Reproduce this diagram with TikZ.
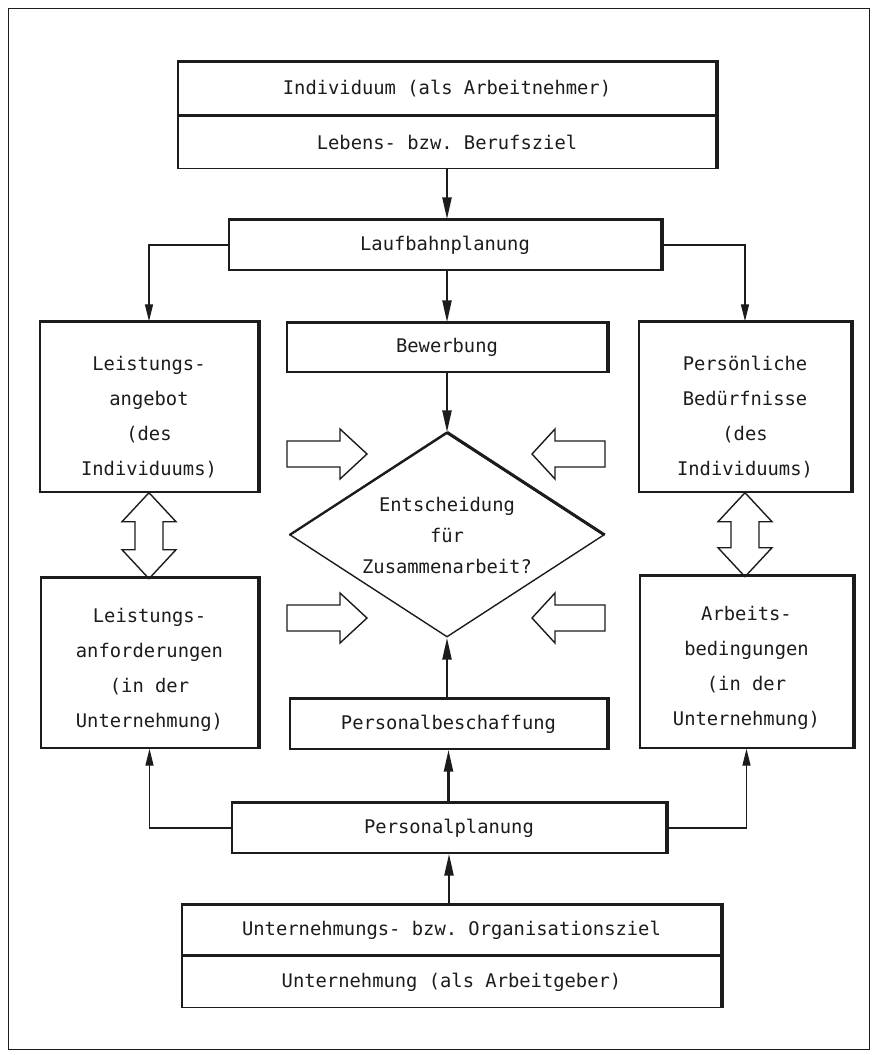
\documentclass[tikz,border=0pt]{standalone}
\usepackage{fontspec}
\setmonofont{DejaVu Sans Mono}
\usepackage{tikz}
\usetikzlibrary{arrows.meta,calc,positioning,shapes.geometric}
\definecolor{ink}{RGB}{28,28,28}

\begin{document}
\begin{tikzpicture}[x=1pt,y=-1pt,
  every node/.style={font=\ttfamily\fontsize{18.8}{35}\selectfont,text=ink},
  kasten/.style={draw=ink,line width=1.4pt,inner sep=0pt,align=center},
  rand/.style={draw=ink,line width=3.6pt},
  fluss/.style={-{Triangle[length=22pt,width=9pt]},draw=ink,line width=2.4pt},
  zweig/.style={-{Triangle[length=17pt,width=8pt]},draw=ink,line width=1.3pt},
  hohl/.style={draw=ink,line width=1.4pt,line join=miter}]
  \useasboundingbox (0,0) rectangle (874,1055);
  \draw[ink,line width=1pt] (8,8) rectangle (869,1049);
  % Kaesten
  \node[kasten,minimum width=538pt,minimum height=53pt] (indiv) at (447,88.5) {Individuum (als Arbeitnehmer)};
  \node[kasten,minimum width=538pt,minimum height=52pt,below=0pt of indiv] (ziel) {Lebens- bzw. Berufsziel};
  \node[kasten,minimum width=432pt,minimum height=50pt] (lauf) at (445,245) {Laufbahnplanung};
  \node[kasten,minimum width=320pt,minimum height=49pt] (bewerb) at (447,347.5) {Bewerbung};
  \node[kasten,minimum width=218pt,minimum height=170pt] (angebot) at (149,407) {\rule{0pt}{34pt}Leistungs-\\angebot\\(des\\Individuums)};
  \node[kasten,minimum width=212pt,minimum height=170pt] (beduerf) at (745,407) {\rule{0pt}{34pt}Persönliche\\Bedürfnisse\\(des\\Individuums)};
  \node[draw=ink,line width=1.4pt,diamond,shape aspect=1.54,inner sep=0pt,align=center,
        minimum width=314pt,minimum height=204pt,font=\ttfamily\fontsize{18.8}{31}\selectfont]
        (entsch) at (447,535) {Entscheidung\\für\\Zusammenarbeit?};
  \node[kasten,minimum width=217pt,minimum height=170pt] (anford) at (149.5,663) {\rule{0pt}{28pt}Leistungs-\\anforderungen\\(in der\\Unternehmung)};
  \node[kasten,minimum width=213pt,minimum height=172pt] (beding) at (746.5,662) {\rule{0pt}{27pt}Arbeits-\\bedingungen\\(in der\\Unternehmung)};
  \node[kasten,minimum width=317pt,minimum height=50pt] (beschaff) at (448.5,724) {Personalbeschaffung};
  \node[kasten,minimum width=434pt,minimum height=50pt] (perspl) at (449,828) {Personalplanung};
  \node[kasten,minimum width=539pt,minimum height=50pt] (orgziel) at (451.5,930) {Unternehmungs- bzw. Organisationsziel};
  \node[kasten,minimum width=539pt,minimum height=51pt,below=0pt of orgziel] (untern) {Unternehmung (als Arbeitgeber)};
  % dicke Kanten oben und rechts
  \foreach \o/\u in {indiv/ziel,lauf/lauf,bewerb/bewerb,angebot/angebot,beduerf/beduerf,
                     anford/anford,beding/beding,beschaff/beschaff,perspl/perspl,orgziel/untern}
    \draw[rand] (\o.north west) -- (\o.north east) -- (\u.south east);
  \draw[ink,line width=3pt] (entsch.north) -- (entsch.east);
  \draw[ink,line width=2pt] (entsch.west) -- (entsch.north);
  % Pfeile
  \draw[fluss] (ziel.south) -- (ziel.south |- lauf.north);
  \draw[zweig] (lauf.west) -| (angebot.north);
  \draw[zweig] (lauf.east) -| (beduerf.north);
  \draw[fluss] (bewerb.north |- lauf.south) -- (bewerb.north);
  \draw[fluss] (bewerb.south) -- (entsch.north);
  \draw[fluss] (entsch.south |- beschaff.north) -- (entsch.south);
  \draw[fluss] (beschaff.south |- perspl.north) -- (beschaff.south);
  \draw[fluss] (perspl.south |- orgziel.north) -- (perspl.south);
  \draw[zweig] (perspl.west) -| (anford.south);
  \draw[zweig] (perspl.east) -| (beding.south);
  % Blockpfeile
  \foreach \y in {454,618} {
    \draw[hohl] (287,\y-13) -- ++(53,0) -- ++(0,-12) -- (367,\y) -- (340,\y+25) -- ++(0,-12) -- (287,\y+13) -- cycle;
    \draw[hohl] (605,\y-13) -- ++(-50,0) -- ++(0,-12) -- (532,\y) -- (555,\y+25) -- ++(0,-12) -- (605,\y+13) -- cycle;
  }
  \draw[hohl] (angebot.south) -- ++(27,29) -- ++(-13,0) -- ++(0,28) -- ++(13,0) -- ++(-27,29)
    -- ++(-27,-29) -- ++(13,0) -- ++(0,-28) -- ++(-13,0) -- cycle;
  \draw[hohl] (beduerf.south) -- ++(27,29) -- ++(-13,0) -- ++(0,26) -- ++(13,0) -- ++(-27,29)
    -- ++(-27,-29) -- ++(13,0) -- ++(0,-26) -- ++(-13,0) -- cycle;
\end{tikzpicture}
\end{document}
